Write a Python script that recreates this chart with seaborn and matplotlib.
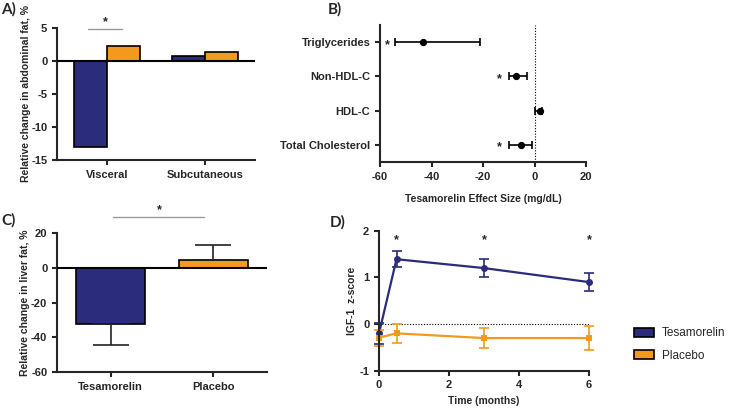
import numpy as np
import pandas as pd
import matplotlib
matplotlib.use("Agg")
import matplotlib.pyplot as plt
from matplotlib.patches import Patch
import seaborn as sns

# --- data ---
groups = ["Tesamorelin", "Placebo"]
colors = ["#2B2C7C", "#F39A1E"]

# A) abdominal fat
fat_regions = ["Visceral", "Subcutaneous"]
fat_tesamorelin = [-13.1, 0.75]
fat_placebo = [2.3, 1.3]

# B) lipid effect sizes
lipids = ["Triglycerides", "Non-HDL-C", "HDL-C", "Total Cholesterol"]
lipid_effect = [-43.2, -7.2, 2.0, -5.1]
lipid_ci_low = [-54.2, -10.1, 0.2, -10.0]
lipid_ci_high = [-21.2, -3.0, 3.0, -1.1]
lipid_star_x = [-57.0, -13.8, None, -13.5]

# C) liver fat
liver_change = [-32.5, 4.8]
liver_err_down = [12.0, 0.0]
liver_err_up = [0.0, 8.2]

# D) IGF-1 z-score
months = [0, 0.5, 3, 6]
igf_tesamorelin = [-0.2, 1.39, 1.2, 0.9]
igf_tesamorelin_err = [0.22, 0.17, 0.2, 0.19]
igf_placebo = [-0.29, -0.2, -0.3, -0.3]
igf_placebo_err = [0.17, 0.2, 0.22, 0.26]
igf_star_months = [0.5, 3, 6]

sns.set_theme(style="ticks")
plt.rcParams["font.family"] = ["Liberation Sans", "DejaVu Sans"]
plt.rcParams["font.weight"] = "bold"
plt.rcParams["axes.unicode_minus"] = False
plt.rcParams["axes.linewidth"] = 1.5
plt.rcParams["xtick.major.width"] = 1.5
plt.rcParams["ytick.major.width"] = 1.5
plt.rcParams["xtick.major.size"] = 3.5
plt.rcParams["ytick.major.size"] = 3.5
plt.rcParams["xtick.labelsize"] = 8
plt.rcParams["ytick.labelsize"] = 8
plt.rcParams["axes.labelsize"] = 7.5
plt.rcParams["axes.labelweight"] = "bold"

fig = plt.figure(figsize=(7.29, 4.08), dpi=100)
axA = fig.add_axes([0.0782, 0.608, 0.2716, 0.3235])
axB = fig.add_axes([0.5213, 0.603, 0.2826, 0.3358])
axC = fig.add_axes([0.0782, 0.088, 0.288, 0.3407])
axD = fig.add_axes([0.5199, 0.0914, 0.288, 0.343])

for ax in (axA, axB, axC, axD):
    sns.despine(ax=ax)

# --- A ---
dfA = pd.DataFrame({
    "region": fat_regions * 2,
    "group": [groups[0]] * 2 + [groups[1]] * 2,
    "value": fat_tesamorelin + fat_placebo,
})
sns.barplot(data=dfA, x="region", y="value", hue="group", palette=colors,
            saturation=1, width=0.67, edgecolor="black", linewidth=1.2,
            ax=axA, legend=False)
axA.axhline(0, color="black", lw=1.5, zorder=5)
axA.set_ylim(-15, 5)
axA.set_xlim(-0.51, 1.51)
axA.set_yticks([-15, -10, -5, 0, 5])
axA.set_xlabel("")
axA.set_ylabel("Relative change in abdominal fat, %")
axA.yaxis.set_label_coords(-0.131, 0.5)
axA.plot([-0.19, 0.15], [4.8, 4.8], color="#999999", lw=1, clip_on=False)
axA.text(-0.02, 5.0, "*", ha="center", va="bottom", fontsize=9, clip_on=False)

# --- B ---
ypos = np.arange(len(lipids))
sns.pointplot(x=lipid_effect, y=lipids, orient="h", linestyle="none",
              color="black", markersize=3.2, ax=axB)
xerr = [np.array(lipid_effect) - np.array(lipid_ci_low),
        np.array(lipid_ci_high) - np.array(lipid_effect)]
axB.errorbar(lipid_effect, ypos, xerr=xerr, fmt="none", ecolor="black",
             elinewidth=1.2, capsize=3, capthick=1.2)
axB.axvline(0, color="black", lw=0.8, ls=(0, (1, 1.5)))
for y, sx in zip(ypos, lipid_star_x):
    if sx is not None:
        axB.text(sx, y + 0.08, "*", ha="center", va="center", fontsize=9)
axB.set_xlim(-60, 20)
axB.set_ylim(3.5, -0.5)
axB.set_xticks([-60, -40, -20, 0, 20])
axB.set_xlabel("Tesamorelin Effect Size (mg/dL)", labelpad=9)
axB.set_ylabel("")

# --- C ---
dfC = pd.DataFrame({"group": groups, "value": liver_change})
sns.barplot(data=dfC, x="group", y="value", hue="group", palette=colors,
            saturation=1, width=0.67, edgecolor="black", linewidth=1.2,
            ax=axC, legend=False)
axC.errorbar([0, 1], liver_change, yerr=[liver_err_down, liver_err_up],
             fmt="none", ecolor="#222222", elinewidth=1.2, capsize=13, capthick=1.2)
axC.axhline(0, color="black", lw=1.5, zorder=5)
axC.set_ylim(-60, 20)
axC.set_xlim(-0.52, 1.52)
axC.set_yticks([-60, -40, -20, 0, 20])
axC.set_xlabel("")
axC.set_ylabel("Relative change in liver fat, %")
axC.yaxis.set_label_coords(-0.129, 0.5)
axC.plot([0.02, 0.91], [29, 29], color="#999999", lw=1, clip_on=False)
axC.text(0.47, 30, "*", ha="center", va="bottom", fontsize=9, clip_on=False)

# --- D ---
dfD = pd.DataFrame({
    "month": months * 2,
    "z": igf_tesamorelin + igf_placebo,
    "group": [groups[0]] * 4 + [groups[1]] * 4,
})
sns.lineplot(data=dfD, x="month", y="z", hue="group", style="group",
             palette=colors, markers=["o", "s"], dashes=False, markersize=5,
             markeredgewidth=0, lw=1.6, ax=axD, legend=False, clip_on=False)
axD.errorbar(months, igf_tesamorelin, yerr=igf_tesamorelin_err, fmt="none",
             ecolor=colors[0], elinewidth=1.2, capsize=3.5, capthick=1.2, clip_on=False)
axD.errorbar(months, igf_placebo, yerr=igf_placebo_err, fmt="none",
             ecolor=colors[1], elinewidth=1.2, capsize=3.5, capthick=1.2, clip_on=False)
axD.plot([0, 6], [0, 0], color="black", lw=0.8, ls=(0, (1, 1.5)), zorder=0)
for m in igf_star_months:
    axD.text(m, 1.8, "*", ha="center", va="center", fontsize=9)
axD.set_xlim(0, 6)
axD.set_ylim(-1, 2)
axD.set_xticks([0, 2, 4, 6])
axD.set_yticks([-1, 0, 1, 2])
axD.set_xlabel("Time (months)")
axD.set_ylabel("IGF-1  z-score")
axD.yaxis.set_label_coords(-0.105, 0.5)

# panel labels
for x, y, lab in [(0.002, 0.978, "A)"), (0.449, 0.978, "B)"),
                  (0.002, 0.46, "C)"), (0.452, 0.455, "D)")]:
    fig.text(x, y, lab, fontsize=11, fontweight="bold", family="Lato",
             va="center", ha="left")

# legend
handles = [Patch(facecolor=c, edgecolor="black", linewidth=1.2) for c in colors]
fig.legend(handles, groups, loc="center left", bbox_to_anchor=(0.855, 0.155),
           frameon=False, prop={"size": 8.5, "weight": "normal"},
           handlelength=1.7, handleheight=0.8, labelspacing=0.9, handletextpad=0.7)

fig.savefig("out.png", dpi=100)
